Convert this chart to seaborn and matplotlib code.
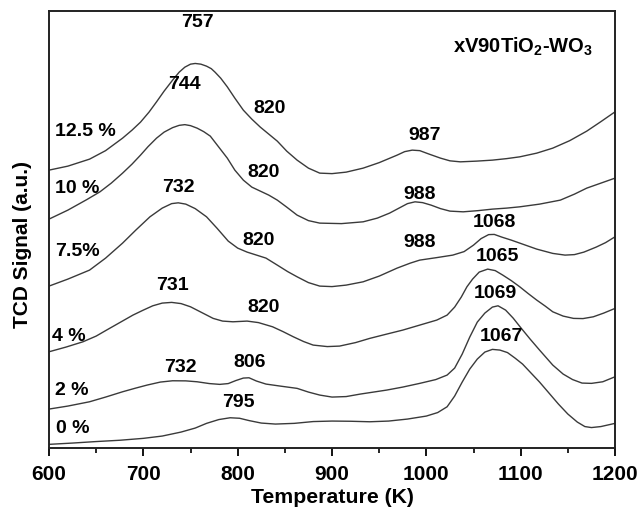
import matplotlib
matplotlib.use("Agg")
import matplotlib.pyplot as plt
from matplotlib.ticker import MultipleLocator
import seaborn as sns
import pandas as pd

# TPR profiles (temperature in K, TCD signal in a.u., stacked)
t_0 = [600, 625, 650, 675, 700, 720, 740, 755, 767, 780, 792, 802, 812, 825, 840,
       860, 880, 900, 920, 940, 960, 980, 1000, 1012, 1022, 1030, 1038, 1046, 1054,
       1062, 1070, 1078, 1086, 1094, 1102, 1110, 1120, 1130, 1140, 1150, 1160, 1168,
       1175, 1185, 1200]
s_0 = [3.7, 5, 6.5, 7.8, 9.7, 12, 16, 20, 24.7, 28.5, 30.3, 29.8, 27.5, 25, 24,
       24.7, 26.5, 27, 26.8, 26.3, 27, 29, 32, 35.5, 41.3, 52, 66, 79, 89,
       96, 98.7, 98, 95.5, 90, 84, 76, 66, 55, 44, 34, 26, 21.5,
       20.5, 21.5, 24.7]

t_2 = [600, 620, 643, 660, 678, 692, 704, 718, 731, 745, 757, 770, 781, 790, 798,
       806, 812, 820, 830, 845, 863, 875, 887, 900, 915, 930, 958, 975, 993, 1010,
       1022, 1030, 1038, 1046, 1054, 1062, 1070, 1076, 1084, 1092, 1100, 1110, 1120,
       1134, 1145, 1155, 1165, 1175, 1187, 1200]
s_2 = [39, 42, 46.3, 51, 56.3, 60, 63, 66, 67.3, 67.2, 66.3, 64.5, 63.7, 64.5, 67.5,
       70, 70.3, 67, 64, 62, 59.7, 56, 53, 51, 51.5, 54, 58, 61, 64.7, 68.5,
       73, 80, 94, 111, 126, 135, 141, 142.3, 138, 130, 120.5, 109, 98,
       83, 74, 68.5, 65, 64.7, 66.3, 71.3]

t_4 = [600, 618, 636, 650, 661, 675, 689, 700, 710, 720, 730, 740, 750, 762, 774,
       784, 795, 810, 822, 837, 848, 859, 870, 880, 895, 908, 925, 940, 958, 975,
       993, 1011, 1022, 1030, 1037, 1043, 1049, 1056, 1065, 1073, 1081, 1090, 1099,
       1108, 1117, 1126, 1134, 1145, 1156, 1166, 1177, 1188, 1200]
s_4 = [96.3, 101, 106.3, 112, 118, 125.5, 133, 138, 142.3, 145, 145.7, 144.5, 141.3,
       135.5, 129.7, 127, 126.3, 127, 125.5, 121.3, 116.5, 111.3, 106.5, 103, 101.5,
       102, 105.5, 109.7, 114, 118, 123, 128, 133, 141, 151, 161.3, 169, 176, 179,
       177.5, 173, 167.5, 161.3, 154.5, 148, 142, 136.3, 132, 129.7, 129.5, 131.3,
       135, 139.7]

t_7 = [600, 620, 643, 660, 678, 692, 707, 720, 730, 737, 745, 755, 767, 778, 790,
       800, 810, 820, 830, 842, 853, 863, 875, 887, 900, 915, 933, 950, 969, 983,
       993, 1011, 1028, 1040, 1050, 1058, 1066, 1072, 1080, 1090, 1099, 1117, 1134,
       1147, 1157, 1167, 1180, 1190, 1200]
s_7 = [162, 169, 178, 190, 205, 218, 231.3, 240, 244.5, 245.3, 244, 239.5, 231.3,
       220, 207, 200, 196, 193, 190, 183, 176.5, 171.3, 165.5, 162, 161.5, 163,
       166.3, 172, 180, 185, 188, 190.5, 193, 196.5, 203, 209.5, 213.5, 213.7, 211,
       208, 205, 199, 194.7, 193, 193.5, 196, 201, 205.5, 211.3]

t_10 = [600, 620, 640, 654, 666, 678, 688, 697, 705, 714, 722, 731, 738, 744, 750,
        757, 764, 771, 780, 789, 797, 806, 815, 824, 833, 842, 852, 863, 875, 887,
        910, 933, 948, 961, 972, 980, 988, 996, 1005, 1015, 1025, 1039, 1055, 1070,
        1085, 1099, 1120, 1142, 1157, 1170, 1185, 1200]
s_10 = [229, 238, 248.5, 256.3, 265, 275, 284, 293, 301.5, 310, 316, 320.5, 322.8,
        323.5, 322.5, 320, 316.5, 312, 301, 290, 278, 268, 261, 257, 253, 248, 241,
        233, 227.5, 225, 224.5, 226.3, 230, 235, 240.5, 244.5, 246.3, 245.5, 243,
        239.5, 237, 236.3, 237.5, 239, 240, 241.3, 244, 248, 254, 260, 265, 270]

t_12 = [600, 620, 643, 660, 678, 688, 697, 706, 714, 722, 731, 738, 744, 750, 755,
        761, 767, 772, 776, 782, 789, 797, 806, 815, 824, 833, 842, 852, 863, 875,
        887, 900, 915, 933, 950, 969, 977, 985, 993, 1003, 1015, 1025, 1036, 1053,
        1070, 1085, 1099, 1117, 1134, 1152, 1170, 1185, 1200]
s_12 = [278, 282, 289, 297.5, 310, 318, 326, 336, 346.3, 357, 368, 376, 381, 384,
        384.7, 384, 382, 379.5, 376, 370, 361.3, 350, 338, 329, 321, 314, 307, 297,
        288, 280, 275, 274.5, 276, 280, 285.5, 293, 296.5, 298, 297.5, 294, 290,
        287.3, 286.3, 287, 288, 289.5, 291.3, 295, 300, 307.5, 317, 326.5, 336.3]

sample_names = ["0 %", "2 %", "4 %", "7.5%", "10 %", "12.5 %"]
# where each sample name sits (left side)
name_x = [607, 606, 603, 606, 606, 606]
name_y = [20, 58, 112, 197, 260, 317]

# peak labels: text, temperature position, signal position
peak_text = ["757", "744", "820", "820", "732", "820", "731", "820", "732", "806",
             "795", "987", "988", "988", "1068", "1065", "1069", "1067"]
peak_x = [757, 744, 834, 827, 737, 822, 731, 827, 739, 813,
          801, 998, 993, 993, 1072, 1075, 1073, 1080]
peak_y = [426, 364, 340, 276, 261, 208, 163, 141, 81, 86,
          46, 313, 254, 206, 226, 192, 155, 112]

frames = []
for name, t, s in zip(sample_names,
                      [t_0, t_2, t_4, t_7, t_10, t_12],
                      [s_0, s_2, s_4, s_7, s_10, s_12]):
    frames.append(pd.DataFrame({"T": t, "signal": s, "sample": name}))
df = pd.concat(frames, ignore_index=True)

sns.set_style("ticks")
plt.rcParams["font.family"] = ["Liberation Sans", "DejaVu Sans"]
plt.rcParams["font.weight"] = "bold"
plt.rcParams["text.color"] = "black"
plt.rcParams["axes.labelcolor"] = "black"
plt.rcParams["xtick.color"] = "black"
plt.rcParams["mathtext.fontset"] = "custom"
plt.rcParams["mathtext.rm"] = "Liberation Sans:bold"
plt.rcParams["mathtext.bf"] = "Liberation Sans:bold"

fig = plt.figure(figsize=(6.38, 5.08), dpi=100, facecolor="white")
ax = fig.add_axes([0.0768, 0.118, 0.8872, 0.860])

sns.lineplot(
    data=df, x="T", y="signal", hue="sample",
    palette=["#3a3a3a"] * len(sample_names),
    estimator=None, sort=False, linewidth=1.0,
    legend=False, ax=ax)

for name, x, y in zip(sample_names, name_x, name_y):
    ax.text(x, y, name, fontsize=14, fontweight="bold",
            ha="left", va="center")

for txt, x, y in zip(peak_text, peak_x, peak_y):
    ax.text(x, y, txt, fontsize=14, fontweight="bold",
            ha="center", va="center")

ax.text(1177, 401, r"xV90TiO$_\mathbf{2}$-WO$_\mathbf{3}$", fontsize=14.5,
        fontweight="bold", ha="right", va="center")

ax.set_xlim(600, 1200)
ax.set_ylim(0, 437)
ax.xaxis.set_major_locator(MultipleLocator(100))
ax.xaxis.set_minor_locator(MultipleLocator(50))
ax.set_yticks([])
ax.tick_params(axis="x", which="major", direction="out", length=6, width=1.3,
               labelsize=15, pad=6)
ax.tick_params(axis="x", which="minor", direction="out", length=3.5, width=1.2)
for lbl in ax.get_xticklabels():
    lbl.set_fontweight("bold")
for sp in ax.spines.values():
    sp.set_visible(True)
    sp.set_linewidth(1.4)
    sp.set_color("#222222")

ax.set_xlabel("Temperature (K)", fontsize=15.3, fontweight="bold", labelpad=3)
ax.set_ylabel("TCD Signal (a.u.)", fontsize=15, fontweight="bold")
ax.yaxis.set_label_coords(-0.03, 0.467)

fig.savefig("out.png", dpi=100, facecolor="white")
